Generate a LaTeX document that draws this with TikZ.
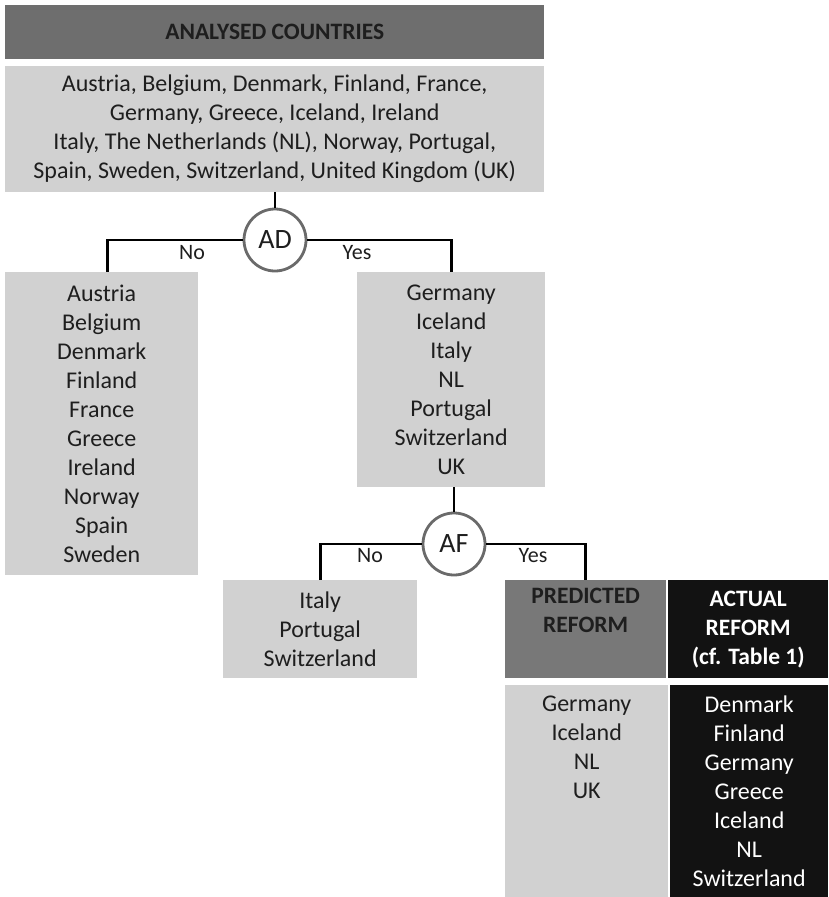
\documentclass[tikz,border=0pt]{standalone}
\usepackage{fontspec}
\usetikzlibrary{calc}
\setmainfont{Carlito}
\definecolor{headgrey}{HTML}{6E6E6E}
\definecolor{boxgrey}{HTML}{D1D1D1}
\definecolor{predgrey}{HTML}{787878}
\definecolor{actblack}{HTML}{121212}
\definecolor{inkdark}{HTML}{1E1E1E}
\definecolor{ringgrey}{HTML}{6A6A6A}
\begin{document}
\begin{tikzpicture}[x=1pt,y=-1pt,
  panel/.style={rectangle, inner sep=0pt, anchor=north west, align=center,
    text=inkdark, font=\fontsize{24}{29}\selectfont},
  listbox/.style={panel, fill=boxgrey},
  headbox/.style={panel, font=\bfseries\fontsize{23.5}{29}\selectfont},
  split/.style={circle, draw=ringgrey, line width=2.8pt, fill=white,
    minimum size=62pt, inner sep=0pt, text=inkdark,
    font=\fontsize{28}{30}\selectfont},
  conn/.style={draw=black, line width=2.8pt},
  branch/.style={font=\fontsize{22}{24}\selectfont, text=inkdark}]
\useasboundingbox (0,0) rectangle (828,897);

% header and full country list
\node[headbox, fill=headgrey, minimum width=539pt, minimum height=54pt] (title) at (5,5)
  {ANALYSED COUNTRIES};
\node[listbox, minimum width=539pt, minimum height=126pt] (all) at (5,66)
  {Austria, Belgium, Denmark, Finland, France,\\
   Germany, Greece, Iceland, Ireland\\
   Italy, The Netherlands (NL), Norway, Portugal,\\
   Spain, Sweden, Switzerland, United Kingdom (UK)};

% first split
\node[split] (ad) at (275,240) {AD};
\node[listbox, minimum width=193pt, minimum height=303pt] (adno) at (5,272)
  {Austria\\Belgium\\Denmark\\Finland\\France\\Greece\\Ireland\\Norway\\Spain\\Sweden};
\node[listbox, minimum width=188pt, minimum height=215pt] (adyes) at (357,272)
  {Germany\\Iceland\\Italy\\NL\\Portugal\\Switzerland\\UK};

\draw[conn] (ad.north |- all.south) -- (ad.north);
\draw[conn] (ad.west) -| ($(adno.north)+(6,0)$);
\draw[conn] (ad.east) -| (adyes.north);
\node[branch] (adnolab) at (192,253) {No};
\node[branch] (adyeslab) at (357,253) {Yes};

% second split
\node[split] (af) at (454,544) {AF};
\node[listbox, minimum width=194pt, minimum height=98pt] (afno) at (223,580)
  {Italy\\Portugal\\Switzerland};
\node[headbox, fill=predgrey, minimum width=161pt, minimum height=98pt] (pred) at (505,580)
  {PREDICTED\\REFORM\\\strut};
\node[headbox, fill=actblack, text=white, minimum width=160pt, minimum height=98pt] (act) at (668,580)
  {ACTUAL\\REFORM\\(cf. Table 1)};

\draw[conn] (af.north |- adyes.south) -- (af.north);
\draw[conn] (af.west) -| (afno.north);
\draw[conn] (af.east) -| (pred.north);
\node[branch] (afnolab) at (370,556) {No};
\node[branch] (afyeslab) at (533,556) {Yes};

% predicted versus actual reform
\node[listbox, minimum width=163pt, minimum height=212pt] (predlist) at (505,685)
  {Germany\\Iceland\\NL\\UK\\~\\~\\~};
\node[panel, fill=actblack, text=white, minimum width=158pt, minimum height=212pt] (actlist) at (670,685)
  {Denmark\\Finland\\Germany\\Greece\\Iceland\\NL\\Switzerland};
\end{tikzpicture}
\end{document}
